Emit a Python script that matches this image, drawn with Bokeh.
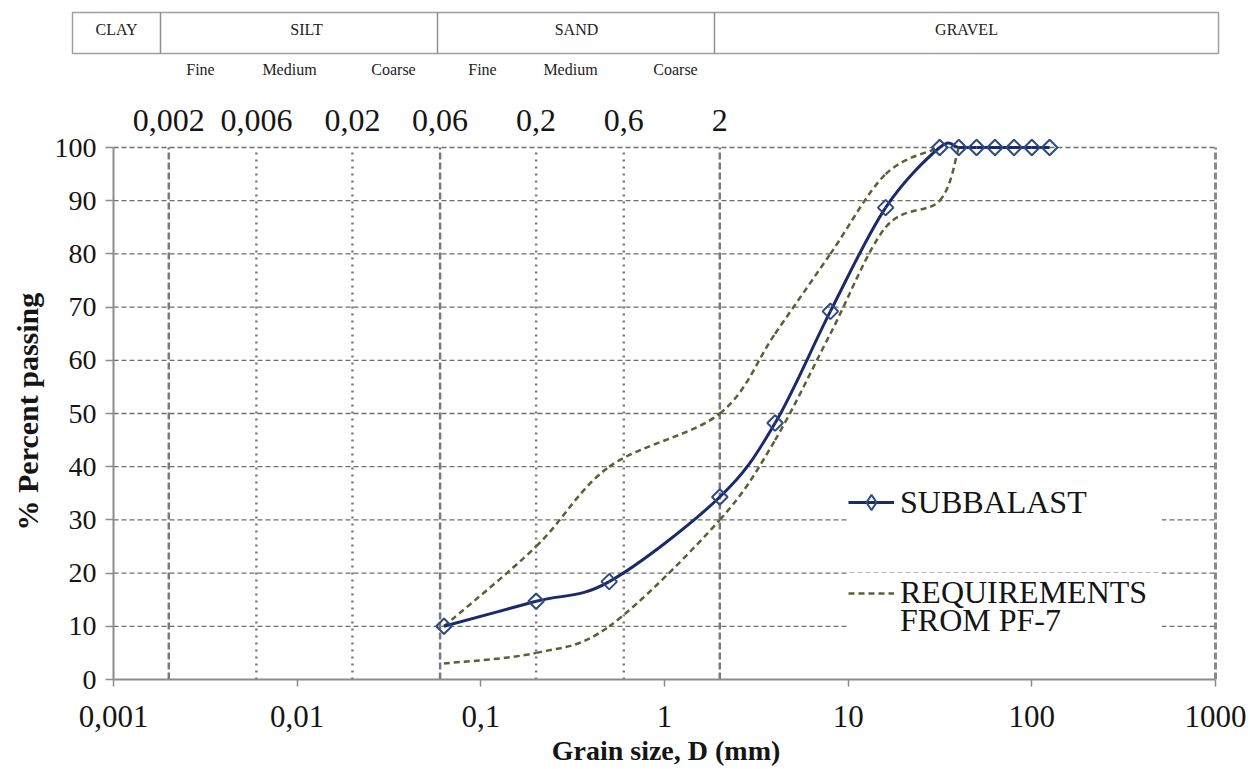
import numpy as np
from bokeh.plotting import figure
from bokeh.models import Range1d, FixedTicker, Legend, LegendItem, Title
from bokeh.embed import file_html
from bokeh.resources import INLINE
from bokeh.core.properties import value

# ---------------- data ----------------
sieve_mm = [0.063, 0.2, 0.5, 2, 4, 8, 16, 31.5, 40, 50, 63, 80, 100, 125]
subbalast_pct = [10, 14.7, 18.4, 34.3, 48.2, 69.2, 88.7, 100, 100, 100, 100, 100, 100, 100]

req_upper_mm = [0.063, 0.2, 0.5, 2, 4, 8, 16, 31.5]
req_upper_pct = [10, 25, 40, 50, 65, 80, 95, 100]
req_lower_mm = [0.063, 0.2, 0.5, 2, 4, 8, 16, 31.5, 40]
req_lower_pct = [3, 5, 10, 30, 45, 65, 85, 90, 100]

boundary_mm = [0.002, 0.006, 0.02, 0.06, 0.2, 0.6, 2]
boundary_labels = ["0,002", "0,006", "0,02", "0,06", "0,2", "0,6", "2"]
major_boundary_mm = [0.002, 0.06, 2]
minor_boundary_mm = [0.006, 0.02, 0.2, 0.6]

x_ticks = [0.001, 0.01, 0.1, 1, 10, 100, 1000]
x_tick_labels = ["0,001", "0,01", "0,1", "1", "10", "100", "1000"]
y_ticks = list(range(0, 101, 10))

soil_classes = ["CLAY", "SILT", "SAND", "GRAVEL"]
soil_subclasses = ["Fine", "Medium", "Coarse", "Fine", "Medium", "Coarse"]

# ---------------- styles / layout ----------------
SERIF = "Liberation Serif"
NAVY = "#1b2a6b"
MARK = "#2d4b80"
OLIVE = "#5c6035"
GRID = "#6e6e6e"
AXIS = "#8c8c8c"
TXT = "#151515"

PX_PER_DEC = 183.83
PX_PER_PCT = 5.32
FRAME_H = 584


def smooth_segments(xs, ys):
    """Catmull-Rom -> cubic Bezier pieces (computed in log-x / linear-y space)."""
    P = np.column_stack([np.log10(np.asarray(xs, float)), np.asarray(ys, float)])
    n = len(P)
    out = {k: [] for k in ("x0", "y0", "x1", "y1", "cx0", "cy0", "cx1", "cy1")}
    for i in range(n - 1):
        p0 = P[max(i - 1, 0)]
        p1 = P[i]
        p2 = P[i + 1]
        p3 = P[min(i + 2, n - 1)]
        c1 = p1 + (p2 - p0) / 6.0
        c2 = p2 - (p3 - p1) / 6.0
        out["x0"].append(10 ** p1[0]); out["y0"].append(p1[1])
        out["x1"].append(10 ** p2[0]); out["y1"].append(p2[1])
        out["cx0"].append(10 ** c1[0]); out["cy0"].append(c1[1])
        out["cx1"].append(10 ** c2[0]); out["cy1"].append(c2[1])
    return out


# ---------------- header (classification table) ----------------
h = figure(width=1250, height=95, x_range=Range1d(0, 1250), y_range=Range1d(95, 0),
           output_backend="svg", toolbar_location=None,
           x_axis_location=None, y_axis_location=None,
           min_border_left=0, min_border_right=0, min_border_top=0, min_border_bottom=0)
h.grid.visible = False
h.outline_line_color = None

h.quad(left=[72], right=[1218], top=[12], bottom=[53], fill_color=None,
       line_color="#a0a0a0", line_width=1.5)
h.segment(x0=[160, 437, 714], y0=[12] * 3, x1=[160, 437, 714], y1=[53] * 3,
          line_color="#909090", line_width=1.5)
h.text(x=[116, 306, 576, 966], y=[29] * 4, text=soil_classes,
       text_font=value(SERIF), text_font_size="16px", text_color="#222222",
       text_align="center", text_baseline="middle")
h.text(x=[200, 289, 393, 482, 570, 675], y=[69] * 6, text=soil_subclasses,
       text_font=value(SERIF), text_font_size="16px", text_color="#222222",
       text_align="center", text_baseline="middle")

# ---------------- main chart ----------------
p = figure(width=1250, height=674, x_axis_type="log",
           x_range=Range1d(0.001, 10 ** (3 + 3 / PX_PER_DEC)),
           y_range=Range1d(0, FRAME_H / PX_PER_PCT),
           output_backend="svg", toolbar_location=None,
           min_border_left=112, min_border_right=32, min_border_top=0, min_border_bottom=90)
p.outline_line_color = None
p.grid.visible = False

# axes
p.xaxis.ticker = FixedTicker(ticks=x_ticks)
p.xaxis.major_label_overrides = {t: l for t, l in zip(x_ticks, x_tick_labels)}
p.xaxis.bounds = (x_ticks[0], x_ticks[-1])
p.yaxis.ticker = FixedTicker(ticks=y_ticks)
p.yaxis.bounds = (0, 100)
for ax in (p.xaxis[0], p.yaxis[0]):
    ax.axis_line_color = AXIS
    ax.axis_line_width = 2
    ax.major_tick_line_color = AXIS
    ax.major_tick_line_width = 1.5
    ax.major_tick_in = 0
    ax.minor_tick_line_color = None
    ax.major_label_text_font = SERIF
    ax.major_label_text_color = TXT
    ax.axis_label_text_font = SERIF
    ax.axis_label_text_font_style = "bold"
    ax.axis_label_text_color = TXT
p.xaxis.major_tick_out = 7
p.xaxis.major_label_standoff = 19
p.xaxis.major_label_text_font_size = "31px"
p.xaxis.axis_label = "Grain size, D (mm)"
p.xaxis.axis_label_text_font_size = "28px"
p.xaxis.axis_label_standoff = 5
p.yaxis.major_tick_out = 8
p.yaxis.major_label_standoff = 9
p.yaxis.major_label_text_font_size = "28px"

# y-axis title, placed along the 0..100 span (starts at the bottom, reads upward)
ytitle = Title(text="% Percent passing", align="left", offset=149,
               text_font=SERIF, text_font_size="30px", text_font_style="bold",
               text_color=TXT)
if "standoff" in Title.properties():
    ytitle.standoff = 16
p.add_layout(ytitle, "left")

# horizontal grid (dashed) between the axis limits
grid_y = y_ticks[1:]
p.segment(x0=[x_ticks[0]] * len(grid_y), y0=grid_y, x1=[x_ticks[-1]] * len(grid_y), y1=grid_y,
          line_color=GRID, line_width=1.3, line_dash="5 3")

# vertical class boundaries
p.segment(x0=major_boundary_mm, y0=[0] * 3, x1=major_boundary_mm, y1=[100] * 3,
          line_color="#7a7a7a", line_width=2.5, line_dash="7 3")
p.segment(x0=minor_boundary_mm, y0=[0] * 4, x1=minor_boundary_mm, y1=[100] * 4,
          line_color="#7a7a7a", line_width=2.5, line_dash="2 5")
p.segment(x0=[x_ticks[-1]], y0=[0], x1=[x_ticks[-1]], y1=[100],
          line_color="#8a8a8a", line_width=3, line_dash="7 3")

# boundary values above the plot
p.text(x=boundary_mm, y=[105.1] * len(boundary_mm), text=boundary_labels,
       text_font=value(SERIF), text_font_size="32px", text_color=TXT,
       text_align="center", text_baseline="middle")

# requirement envelopes
up = smooth_segments(req_upper_mm, req_upper_pct)
lo = smooth_segments(req_lower_mm, req_lower_pct)
up_r = p.bezier(**up, line_color=OLIVE, line_width=2.5, line_dash="6 4")
lo_r = p.bezier(**lo, line_color=OLIVE, line_width=2.5, line_dash="6 4")

# subbalast curve
sb = smooth_segments(sieve_mm, subbalast_pct)
sb_r = p.bezier(**sb, line_color=NAVY, line_width=3)
pts_r = p.scatter(sieve_mm, subbalast_pct, marker="square", angle=np.pi / 4, size=11,
                  line_color=MARK, line_width=2, fill_color="white", fill_alpha=0.0)
# legend keys only (not placed on the chart)
key_r = p.scatter(x=[np.nan], y=[np.nan], marker="diamond", line_color=MARK, line_width=2,
                  fill_alpha=0.0)
blank_r = p.line(x=[np.nan], y=[np.nan], line_alpha=0.0)

LEG_X = 735
common = dict(orientation="vertical", label_text_font=SERIF, label_text_font_size="32px",
              label_text_color=TXT, glyph_width=46, label_standoff=6, label_width=262,
              padding=9, margin=0, spacing=0, border_line_color=None)

# white key panel for the first entry
leg_a = Legend(items=[LegendItem(label="SUBBALAST", renderers=[sb_r, key_r])],
               location=(LEG_X, 158), glyph_height=38,
               background_fill_color="white", background_fill_alpha=1.0, **common)
# white backing panel for the two-line second entry
leg_bg = Legend(items=[LegendItem(label=" ", renderers=[blank_r])],
                location=(LEG_X, 40), glyph_height=66,
                background_fill_color="white", background_fill_alpha=1.0, **common)
# second entry, two lines set closely
leg_b = Legend(items=[LegendItem(label="REQUIREMENTS", renderers=[up_r])],
               location=(LEG_X, 68), glyph_height=28,
               background_fill_alpha=0.0, **common)
leg_c = Legend(items=[LegendItem(label="FROM PF-7", renderers=[blank_r])],
               location=(LEG_X, 40), glyph_height=28,
               background_fill_alpha=0.0, **common)
for lg in (leg_a, leg_bg, leg_b, leg_c):
    p.add_layout(lg)

open("out.html", "w").write(file_html([h, p], INLINE))
